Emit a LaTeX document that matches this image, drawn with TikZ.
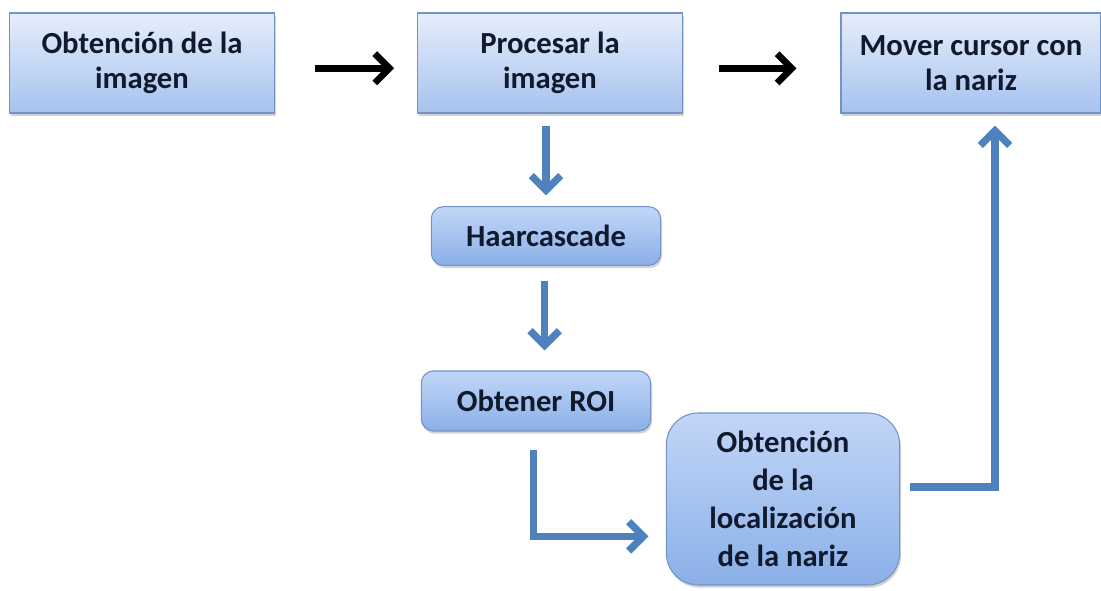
\documentclass[tikz,border=0pt]{standalone}
\usepackage{fontspec}
\setmainfont{Carlito}
\usetikzlibrary{arrows.meta,shadows,positioning}
\definecolor{nzTop}{HTML}{E6EEFB}
\definecolor{nzBottom}{HTML}{A6C2EF}
\definecolor{nzRoundTop}{HTML}{C2D6F7}
\definecolor{nzRoundBottom}{HTML}{8AB0E8}
\definecolor{nzEdge}{HTML}{7393C6}
\definecolor{nzBlue}{HTML}{4F81BD}
\definecolor{nzInk}{HTML}{101A2C}
\tikzset{
  nz block/.style={draw=nzEdge, line width=0.8pt, top color=nzTop, bottom color=nzBottom,
    drop shadow={opacity=0.35, shadow xshift=1pt, shadow yshift=-2pt},
    minimum width=199pt, minimum height=75pt, align=center, inner sep=2pt,
    font=\fontsize{23}{26}\selectfont\bfseries, text=nzInk},
  nz round/.style={nz block, rounded corners=9pt, top color=nzRoundTop, bottom color=nzRoundBottom,
    minimum width=172pt, minimum height=44pt},
  nz big round/.style={nz round, rounded corners=24pt, minimum width=175pt, minimum height=129pt,
    font=\fontsize{23}{28.5}\selectfont\bfseries},
  nz black/.style={draw=black, line width=5pt, -{Straight Barb[length=11pt, width=22pt]}},
  nz link/.style={draw=nzBlue, line width=5.5pt, -{Straight Barb[length=11pt, width=22pt]}},
}
\begin{document}
\begin{tikzpicture}[x=0.75pt, y=-0.75pt]
  \useasboundingbox (0,0) rectangle (1101,590);
  % top row
  \node[nz block] (img) at (142,63) {Obtención de la\\imagen};
  \node[nz block] (proc) at (550,63) {Procesar la\\imagen};
  \node[nz block, minimum width=195pt] (mover) at (971,63) {Mover cursor con\\la nariz};
  % middle column
  \node[nz round] (haar) at (546,236) {Haarcascade};
  \node[nz round, minimum height=45pt] (roi) at (536,401) {Obtener ROI};
  \node[nz big round] (loc) at (783,499) {Obtención\\de la\\localización\\de la nariz};
  % connectors
  \draw[nz black, shorten <=30pt, shorten >=17pt] ([yshift=-4pt]img.east) -- ([yshift=-4pt]proc.west);
  \draw[nz black, shorten <=27pt, shorten >=33pt] ([yshift=-4pt]proc.east) -- ([yshift=-4pt]mover.west);
  \draw[nz link, shorten <=9pt, shorten >=8pt] (haar.north |- proc.south) -- (haar.north);
  \draw[nz link, shorten <=11pt, shorten >=15pt] ([xshift=-1pt]haar.south) -- ([xshift=-1pt]haar.south |- roi.north);
  \draw[nz link, shorten <=14pt, shorten >=13pt] ([xshift=-2pt]roi.south) |- ([yshift=-28pt]loc.west);
  \draw[nz link, shorten <=7pt, shorten >=9pt] ([yshift=9pt]loc.east) -| ([xshift=18pt]mover.south);
\end{tikzpicture}
\end{document}
